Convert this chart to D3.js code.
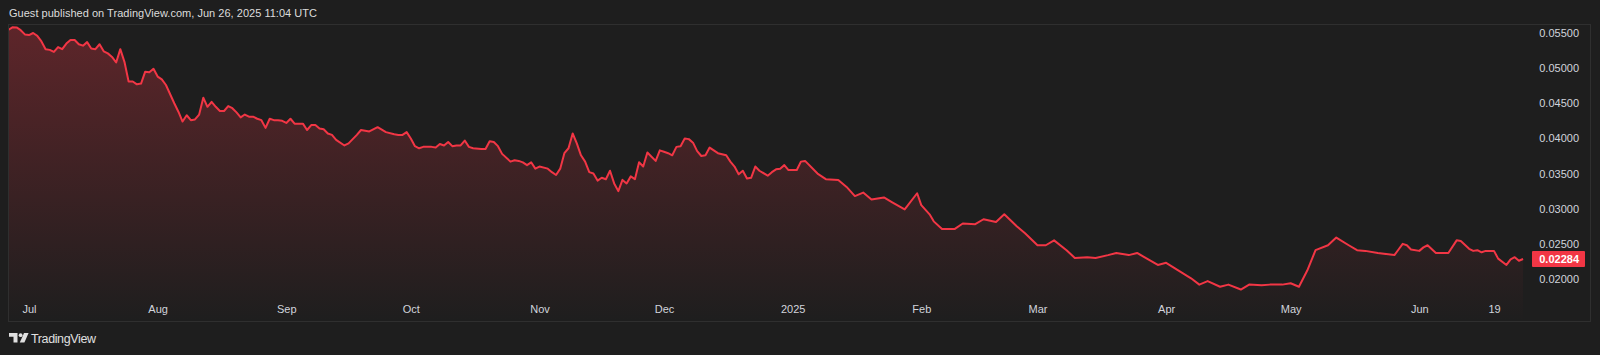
<!DOCTYPE html>
<html>
<head>
<meta charset="utf-8">
<title>TradingView line</title>
<script src="https://d3js.org/d3.v7.min.js"></script>
<style>
  html, body { margin: 0; padding: 0; background: #1e1e1e; }
  svg { display: block; }
  text { font-family: "Liberation Sans", Arial, sans-serif; }
</style>
</head>
<body>
<svg id="chart" width="1600" height="355"></svg>
<script>
// --- data (daily closes) ---
var dates = [
  "2024-06-26","2024-06-27","2024-06-28","2024-06-29","2024-06-30",
  "2024-07-01","2024-07-02","2024-07-03","2024-07-04","2024-07-05","2024-07-06","2024-07-07","2024-07-08","2024-07-09","2024-07-10",
  "2024-07-11","2024-07-12","2024-07-13","2024-07-14","2024-07-15","2024-07-16","2024-07-17","2024-07-18","2024-07-19","2024-07-20",
  "2024-07-21","2024-07-22","2024-07-23","2024-07-24","2024-07-25","2024-07-26","2024-07-27","2024-07-28","2024-07-29","2024-07-30","2024-07-31",
  "2024-08-01","2024-08-02","2024-08-03","2024-08-05","2024-08-06","2024-08-07","2024-08-08","2024-08-09","2024-08-10","2024-08-11",
  "2024-08-12","2024-08-13","2024-08-14","2024-08-15","2024-08-16","2024-08-17","2024-08-18","2024-08-19","2024-08-20","2024-08-21",
  "2024-08-22","2024-08-23","2024-08-24","2024-08-25","2024-08-26","2024-08-27","2024-08-28","2024-08-29","2024-08-30","2024-08-31",
  "2024-09-01","2024-09-02","2024-09-03","2024-09-04","2024-09-05","2024-09-06","2024-09-07","2024-09-08","2024-09-09","2024-09-10",
  "2024-09-11","2024-09-12","2024-09-13","2024-09-15","2024-09-16","2024-09-18","2024-09-19","2024-09-21","2024-09-23","2024-09-25",
  "2024-09-27","2024-09-28","2024-09-29","2024-09-30",
  "2024-10-01","2024-10-02","2024-10-03","2024-10-04","2024-10-06","2024-10-07","2024-10-08","2024-10-09","2024-10-10","2024-10-11",
  "2024-10-12","2024-10-13","2024-10-14","2024-10-15","2024-10-16","2024-10-18","2024-10-19","2024-10-20","2024-10-21","2024-10-22",
  "2024-10-23","2024-10-25","2024-10-26","2024-10-27","2024-10-28","2024-10-29","2024-10-30","2024-10-31",
  "2024-11-01","2024-11-03","2024-11-04","2024-11-05","2024-11-06","2024-11-07","2024-11-08","2024-11-09","2024-11-10","2024-11-11",
  "2024-11-12","2024-11-13","2024-11-14","2024-11-15","2024-11-16","2024-11-17","2024-11-18","2024-11-19","2024-11-20","2024-11-21",
  "2024-11-22","2024-11-23","2024-11-24","2024-11-25","2024-11-26","2024-11-27","2024-11-28","2024-11-29","2024-11-30",
  "2024-12-01","2024-12-02","2024-12-03","2024-12-04","2024-12-05","2024-12-06","2024-12-07","2024-12-08","2024-12-09","2024-12-10",
  "2024-12-11","2024-12-12","2024-12-13","2024-12-14","2024-12-16","2024-12-17","2024-12-18","2024-12-19","2024-12-20","2024-12-21",
  "2024-12-22","2024-12-23","2024-12-24","2024-12-26","2024-12-27","2024-12-28","2024-12-29","2024-12-30","2024-12-31",
  "2025-01-02","2025-01-03","2025-01-04","2025-01-07","2025-01-09","2025-01-12","2025-01-14","2025-01-16","2025-01-18","2025-01-20",
  "2025-01-23","2025-01-25","2025-01-28","2025-01-31",
  "2025-02-01","2025-02-03","2025-02-04","2025-02-06","2025-02-09","2025-02-11","2025-02-14","2025-02-16","2025-02-19","2025-02-21",
  "2025-02-24","2025-02-26",
  "2025-03-01","2025-03-03","2025-03-05","2025-03-08","2025-03-10","2025-03-13","2025-03-15","2025-03-18","2025-03-20","2025-03-23",
  "2025-03-25","2025-03-28","2025-03-30",
  "2025-04-01","2025-04-04","2025-04-07","2025-04-09","2025-04-11","2025-04-14","2025-04-16","2025-04-19","2025-04-21","2025-04-24",
  "2025-04-26","2025-04-29",
  "2025-05-01","2025-05-03","2025-05-05","2025-05-07","2025-05-10","2025-05-12","2025-05-15","2025-05-17","2025-05-19","2025-05-22",
  "2025-05-26","2025-05-27","2025-05-28","2025-05-29","2025-05-30",
  "2025-06-01","2025-06-02","2025-06-03","2025-06-05","2025-06-06","2025-06-08","2025-06-10","2025-06-11","2025-06-13","2025-06-14",
  "2025-06-15","2025-06-16","2025-06-17","2025-06-19","2025-06-20","2025-06-22","2025-06-23","2025-06-24","2025-06-25","2025-06-26"
];
var closes = [
  0.05543,0.05581,0.0558,0.0554,0.0548,
  0.0547,0.0550,0.0546,0.0538,0.0527,0.0526,0.0523,0.0530,0.0527,0.0535,
  0.0540,0.0540,0.0534,0.0532,0.0537,0.0528,0.0527,0.0534,0.0524,0.0521,
  0.0516,0.0508,0.0527,0.0509,0.0481,0.0481,0.0477,0.0478,0.0495,0.0494,0.0499,
  0.0488,0.0484,0.0476,0.0450,0.0438,0.0424,0.0433,0.0426,0.0427,0.0434,
  0.0458,0.0445,0.0452,0.0445,0.0439,0.0439,0.0446,0.0443,0.0437,0.0430,
  0.0434,0.0431,0.0431,0.0428,0.0426,0.0415,0.0428,0.0426,0.0426,0.0425,
  0.0422,0.0428,0.0421,0.0421,0.0421,0.0412,0.0419,0.0419,0.0414,0.0413,
  0.0407,0.0405,0.0398,0.0390,0.0393,0.0405,0.0412,0.0410,0.0416,0.0409,
  0.0406,0.0405,0.0405,0.0409,
  0.0400,0.0389,0.0386,0.0388,0.0388,0.0387,0.0392,0.0390,0.0395,0.0389,
  0.0390,0.0390,0.0397,0.0388,0.0386,0.0385,0.0385,0.0396,0.0395,0.0389,
  0.0378,0.0367,0.0369,0.0368,0.0366,0.0362,0.0366,0.0357,
  0.0360,0.0357,0.0352,0.0348,0.0357,0.0379,0.0386,0.0407,0.0393,0.0376,
  0.0367,0.0352,0.0350,0.0340,0.0344,0.0342,0.0354,0.0336,0.0325,0.0341,
  0.0336,0.0346,0.0342,0.0366,0.0360,0.0380,0.0374,0.0368,0.0383,
  0.0381,0.0379,0.0376,0.0388,0.0389,0.0400,0.0399,0.0394,0.0382,0.0375,
  0.0376,0.0387,0.0383,0.0379,0.0376,0.0367,0.0360,0.0349,0.0354,0.0343,
  0.0344,0.0360,0.0354,0.0347,0.0352,0.0356,0.0357,0.0362,0.0355,
  0.0355,0.0367,0.0368,0.0350,0.0342,0.0341,0.0331,0.0318,0.0323,0.0313,
  0.0316,0.0309,0.0299,0.0322,
  0.0305,0.0292,0.0282,0.0271,0.0271,0.0279,0.0278,0.0285,0.0281,0.0292,
  0.0275,0.0265,
  0.0248,0.0248,0.0255,0.0241,0.0230,0.0231,0.0230,0.0234,0.0237,0.0234,
  0.0237,0.0227,0.0220,
  0.0223,0.0212,0.0201,0.0192,0.0197,0.0189,0.0192,0.0185,0.0192,0.0191,
  0.0192,0.0192,
  0.0194,0.0189,0.0212,0.0241,0.0248,0.0259,0.0248,0.0241,0.0240,0.0237,
  0.0234,0.0242,0.0250,0.0248,0.0242,
  0.0240,0.0245,0.0248,0.0237,0.0237,0.0237,0.0255,0.0254,0.0243,0.0240,
  0.0241,0.0238,0.0240,0.0240,0.0229,0.0220,0.0228,0.0231,0.0226,0.02284
];

// time axis labels
var timeTicks = ["2024-07-01","2024-08-01","2024-09-01","2024-10-01","2024-11-01","2024-12-01",
                 "2025-01-01","2025-02-01","2025-03-01","2025-04-01","2025-05-01","2025-06-01","2025-06-19"];
var timeLabels = ["Jul","Aug","Sep","Oct","Nov","Dec","2025","Feb","Mar","Apr","May","Jun","19"];
// price axis labels
var priceTicks = [0.055, 0.05, 0.045, 0.04, 0.035, 0.03, 0.025, 0.02];
var lastPrice = 0.02284;

var parse = d3.utcParse("%Y-%m-%d");
var data = dates.map(function(d, i) { return {date: parse(d), close: closes[i]}; });

var svg = d3.select("#chart");
var W = 1600, H = 355;
var pane = {left: 8.5, top: 24.5, right: 1590.5, bottom: 321.5};
var red = "#f23645";

var x = d3.scaleUtc()
    .domain([parse("2024-07-01"), parse("2025-06-19")])
    .range([29, 1494]);
var y = d3.scaleLinear()
    .domain([0.02, 0.055])
    .range([279, 33]);

svg.append("rect").attr("width", W).attr("height", H).attr("fill", "#1e1e1e");

// header
svg.append("text")
    .attr("x", 9).attr("y", 17)
    .attr("fill", "#dcdcdc")
    .attr("font-size", 11)
    .attr("textLength", 308)
    .text("Guest published on TradingView.com, Jun 26, 2025 11:04 UTC");

// gradient for area
var defs = svg.append("defs");
var grad = defs.append("linearGradient")
    .attr("id", "areaGrad")
    .attr("gradientUnits", "userSpaceOnUse")
    .attr("x1", 0).attr("x2", 0)
    .attr("y1", 27).attr("y2", pane.bottom);
grad.append("stop").attr("offset", "0%").attr("stop-color", red).attr("stop-opacity", 0.3);
grad.append("stop").attr("offset", "100%").attr("stop-color", red).attr("stop-opacity", 0.0);

defs.append("clipPath").attr("id", "paneClip")
  .append("rect")
    .attr("x", pane.left).attr("y", pane.top)
    .attr("width", 1530 - pane.left).attr("height", pane.bottom - pane.top);

var area = d3.area()
    .x(function(d) { return x(d.date); })
    .y0(pane.bottom)
    .y1(function(d) { return y(d.close); });

var line = d3.line()
    .x(function(d) { return x(d.date); })
    .y(function(d) { return y(d.close); });

var plot = svg.append("g").attr("clip-path", "url(#paneClip)");

plot.append("path")
    .datum(data)
    .attr("d", area)
    .attr("fill", "url(#areaGrad)");

plot.append("path")
    .datum(data)
    .attr("d", line)
    .attr("fill", "none")
    .attr("stroke", red)
    .attr("stroke-width", 2)
    .attr("stroke-linejoin", "round");

// pane border
svg.append("rect")
    .attr("x", pane.left).attr("y", pane.top)
    .attr("width", pane.right - pane.left).attr("height", pane.bottom - pane.top)
    .attr("fill", "none")
    .attr("stroke", "#2f2f2f")
    .attr("stroke-width", 1);

// price axis (right)
var yAxis = d3.axisRight(y)
    .tickValues(priceTicks)
    .tickFormat(d3.format(".5f"))
    .tickSize(0)
    .tickPadding(0);

var yG = svg.append("g")
    .attr("transform", "translate(1579,0)")
    .call(yAxis);
yG.select(".domain").remove();
yG.selectAll("text")
    .attr("text-anchor", "end")
    .attr("fill", "#d1d4dc")
    .attr("font-size", 11)
    .attr("font-family", "'Liberation Sans', Arial, sans-serif");

// last price label
var lp = svg.append("g").attr("transform", "translate(0," + y(lastPrice) + ")");
lp.append("rect")
    .attr("x", 1532).attr("y", -8)
    .attr("width", 53).attr("height", 16)
    .attr("rx", 1)
    .attr("fill", red);
lp.append("text")
    .attr("x", 1579).attr("y", 4)
    .attr("text-anchor", "end")
    .attr("fill", "#ffffff")
    .attr("font-size", 11)
    .attr("font-weight", "bold")
    .text(d3.format(".5f")(lastPrice));

// time axis (bottom)
var xAxis = d3.axisBottom(x)
    .tickValues(timeTicks.map(parse))
    .tickFormat(function(d, i) { return timeLabels[i]; })
    .tickSize(0)
    .tickPadding(0);

var xG = svg.append("g")
    .attr("transform", "translate(0,305)")
    .call(xAxis);
xG.select(".domain").remove();
xG.selectAll("text")
    .attr("fill", "#d1d4dc")
    .attr("font-size", 11)
    .attr("font-family", "'Liberation Sans', Arial, sans-serif");

// TradingView logo
var logo = svg.append("g").attr("fill", "#e0e0e0");
logo.append("path").attr("d", "M9,333H17.5V342.5H13.5V336.8H9Z");
logo.append("circle").attr("cx", 20.6).attr("cy", 335.2).attr("r", 1.9);
logo.append("path").attr("d", "M24,333H28.6L24.4,342.5H19.8Z");
logo.append("text")
    .attr("x", 31).attr("y", 342.5)
    .attr("font-size", 12.5)
    .attr("fill", "#e0e0e0")
    .attr("textLength", 65)
    .text("TradingView");
</script>
</body>
</html>
